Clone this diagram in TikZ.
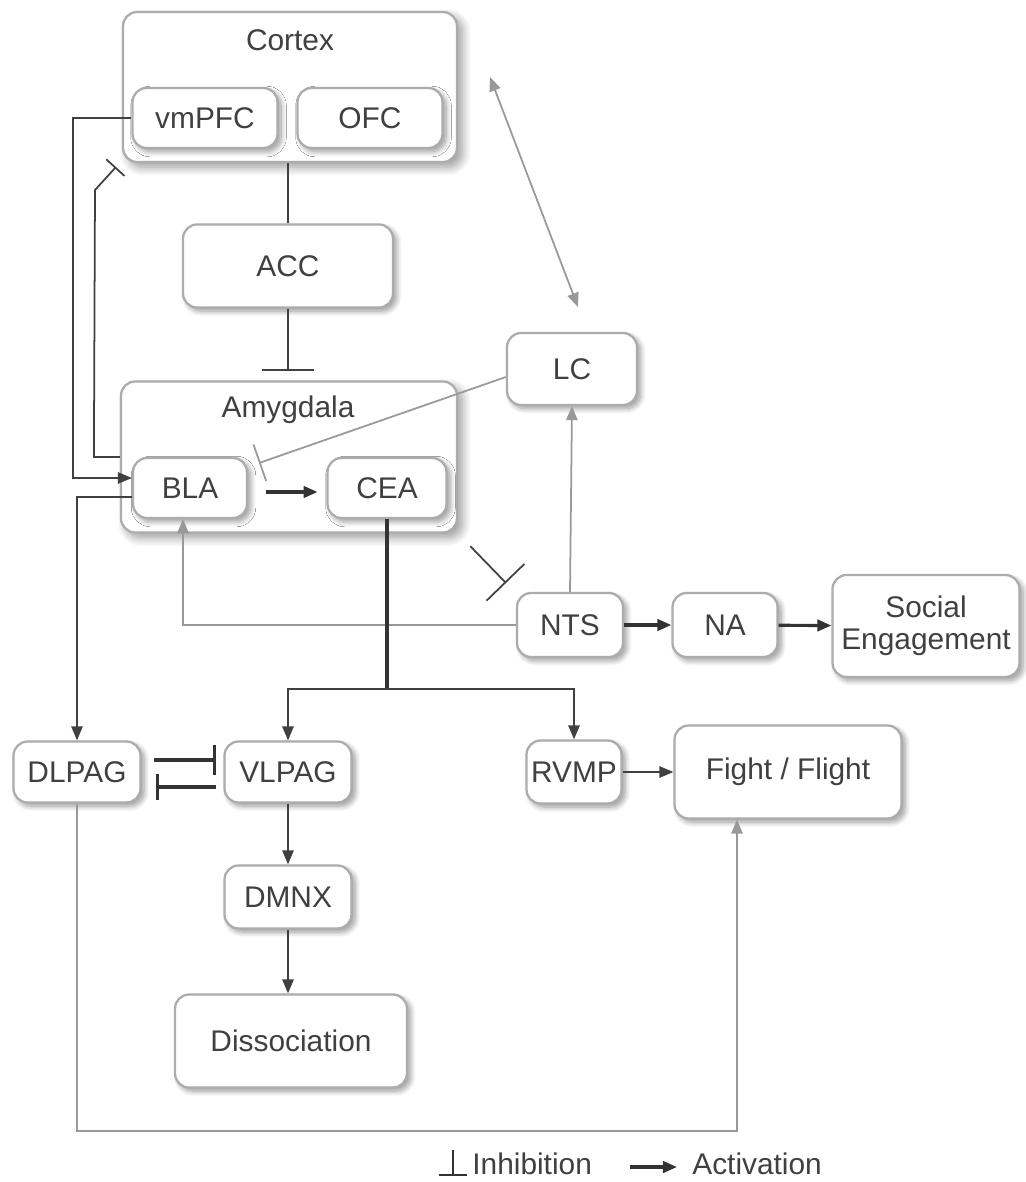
\documentclass[tikz,border=0pt]{standalone}
\usepackage{fontspec}
\setmainfont{Liberation Sans}
\usetikzlibrary{positioning, arrows, arrows.meta, calc, shadows.blur}
\tikzset{
x=0.02cm, y=-0.02cm, % one unit is one pixel of the sketch, y runs downwards
>={Triangle[length=8pt, width=6.5pt]}, % filled arrow heads
every node/.style={font=\fontsize{17}{20}\selectfont, text=black!75},
area/.style={draw=gray!65, line width=1.3pt, rounded corners=8pt, fill=white,
  blur shadow={shadow xshift=3pt, shadow yshift=-3pt, shadow blur radius=5pt, shadow blur steps=12, shadow opacity=40}}, % the two big regions
box/.style={area, minimum height=1.2cm, inner sep=2pt, align=center,
  blur shadow={shadow xshift=2pt, shadow yshift=-2pt, shadow blur radius=3pt, shadow blur steps=8, shadow opacity=22}}, % a nucleus
link/.style={draw=black!75, line width=1pt}, % dark connector
faint/.style={draw=gray!80, line width=1pt}, % light connector
strong/.style={draw=black!80, line width=1.8pt}, % heavy connector
inhib/.style={-{Bar[width=#1]}}, % flat head for inhibition
}

\begin{document}
\begin{tikzpicture}
\useasboundingbox (0,0) rectangle (1026,1182);

% regions and nuclei
\node[area, minimum width=6.68cm, minimum height=3cm] (cortex) at (290,87) {};
\node (cortextitle) at (290,40) {Cortex};
\node[box, minimum width=2.9cm] (vmpfc) at (205,118) {vmPFC};
\node[box, minimum width=2.9cm] (ofc) at (370,118) {OFC};
\node[box, minimum width=4.2cm, minimum height=1.66cm] (acc) at (288,266) {ACC};
\node[area, minimum width=6.72cm, minimum height=3.02cm] (amygdala) at (289,457) {};
\node (amygdalatitle) at (288,410) {Amygdala};
\node[box, minimum width=2.28cm] (bla) at (190,488) {BLA};
\node[box, minimum width=2.38cm] (cea) at (387,488) {CEA};
\node[box, minimum width=2.6cm, minimum height=1.44cm] (lc) at (572,369) {LC};
\node[box, minimum width=2.12cm, minimum height=1.28cm] (nts) at (570,625) {NTS};
\node[box, minimum width=2.1cm, minimum height=1.28cm] (na) at (725,625) {NA};
\node[box, minimum width=3.74cm, minimum height=2.04cm] (social) at (926,626) {Social\\[-2pt]Engagement};
\node[box, minimum width=2.54cm, minimum height=1.22cm] (dlpag) at (77,772) {DLPAG};
\node[box, minimum width=2.54cm, minimum height=1.22cm] (vlpag) at (288,772) {VLPAG};
\node[box, minimum width=1.9cm, minimum height=1.26cm] (rvmp) at (574,772) {RVMP};
\node[box, minimum width=4.54cm, minimum height=1.86cm] (fight) at (788,772) {Fight / Flight};
\node[box, minimum width=2.54cm, minimum height=1.26cm] (dmnx) at (288,897) {DMNX};
\node[box, minimum width=4.64cm, minimum height=1.86cm] (dissoc) at (291,1041) {Dissociation};

% free ends
\coordinate (ctxhit) at (116,167);
\coordinate (acchit) at (288,371);
\coordinate (blahit) at (259,463);
\coordinate (ntshit) at (506,583);
\coordinate (lcup) at (490,77);
\coordinate (lcdown) at (578,307);
\coordinate (split) at (387,689);

% cortex and amygdala
\draw[link, ->] (vmpfc.west) -- ++(-58,0) |- ($(bla.west)+(0,-10)$);
\draw[link, inhib=14pt] (amygdala.west) -- ++(-26,0) -- (95,190) -- (ctxhit);
\draw[link, ->] ($(bla.west)+(0,9)$) -| (dlpag.north);
\draw[link] (acc.north |- cortex.south) -- (acc.north);
\draw[link, inhib=30pt] (acc.south) -- (acchit);
\draw[faint, inhib=22pt] ($(lc.west)+(0,8)$) -- (blahit);
\draw[strong, ->, shorten <=10pt, shorten >=5pt] ($(bla.east)+(0,4)$) -- ($(cea.west)+(0,4)$);
\draw[faint, <->] (lcup) -- (lcdown);

% brainstem
\draw[faint, ->] (nts.north) -- (lc.south);
\draw[faint, ->] (nts.west) -| ($(bla.south)+(-7,0)$);
\draw[link, inhib=30pt, shorten <=10pt] (amygdala.south east) -- (ntshit);
\draw[strong] (cea.south) -- (split);
\draw[link, ->] (split) -| (vlpag.north);
\draw[link, ->] (split) -| (rvmp.north);
\draw[strong, ->] (nts) -- (na);
\draw[strong, ->] (na) -- (social);
\draw[link, ->] (rvmp) -- (fight);
\draw[strong, inhib=17pt, shorten <=7pt, shorten >=4pt] ($(dlpag.east)+(0,-12)$) -- ($(vlpag.west)+(0,-12)$);
\draw[strong, inhib=15pt, shorten <=4pt, shorten >=8pt] ($(vlpag.west)+(0,15)$) -- ($(dlpag.east)+(0,15)$);
\draw[link, ->] (vlpag) -- (dmnx);
\draw[link, ->] (dmnx.south) -- (dmnx.south |- dissoc.north);
\draw[faint, ->] (dlpag.south) -- ++(0,327) -| ($(fight.south)+(-51,0)$);

% legend
\coordinate (inhtop) at (453,1150);
\coordinate (inhfoot) at (453,1176);
\draw[strong, line width=1.3pt, inhib=16pt] (inhtop) -- (inhfoot);
\node[anchor=west, inner sep=0pt] (inhtext) at (472,1164) {Inhibition};
\coordinate (acttail) at (630,1167);
\coordinate (acthead) at (677,1167);
\draw[strong, ->] (acttail) -- (acthead);
\node[anchor=west, inner sep=0pt] (acttext) at (692,1164) {Activation};
\end{tikzpicture}
\end{document}
